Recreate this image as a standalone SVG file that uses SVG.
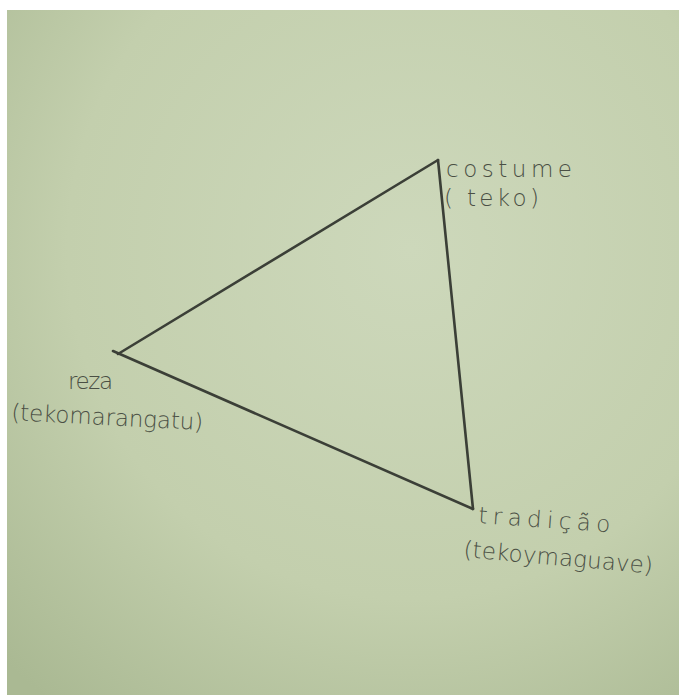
<svg xmlns="http://www.w3.org/2000/svg" width="679" height="695" viewBox="0 0 679 695">
<defs>
<radialGradient id="paper" cx="0.6" cy="0.35" r="0.85">
<stop offset="0" stop-color="#cdd8bb"/>
<stop offset="0.6" stop-color="#c3cfad"/>
<stop offset="1" stop-color="#aab993"/>
</radialGradient>
<style>
.edge{stroke:#3b3f37;stroke-width:2.6;stroke-linecap:round;fill:none}
.lbl{font-family:"DejaVu Sans","Liberation Sans",sans-serif;font-size:23px;fill:#4a4f44;font-weight:300}
</style>
</defs>
<rect x="0" y="0" width="679" height="695" fill="#ffffff"/>
<rect x="7" y="10" width="672" height="685" fill="url(#paper)"/>
<g id="connectors">
<line class="edge" x1="438" y1="160" x2="118" y2="354"/>
<line class="edge" x1="438" y1="160" x2="473" y2="509"/>
<line class="edge" x1="113" y1="351" x2="473" y2="509"/>
</g>
<g id="node-costume">
<text class="lbl" x="446" y="177" textLength="126" lengthAdjust="spacing">costume</text>
<text class="lbl" x="444" y="206" textLength="95" lengthAdjust="spacing">( teko)</text>
</g>
<g id="node-reza">
<text class="lbl" x="68" y="389" textLength="45" lengthAdjust="spacing">reza</text>
<text class="lbl" x="11" y="420" textLength="192" lengthAdjust="spacing" transform="rotate(3 11 420)">(tekomarangatu)</text>
</g>
<g id="node-tradicao">
<text class="lbl" x="478" y="523" textLength="132" lengthAdjust="spacing" transform="rotate(4 478 523)">tradição</text>
<text class="lbl" x="463" y="557" textLength="190" lengthAdjust="spacing" transform="rotate(5 463 557)">(tekoymaguave)</text>
</g>
</svg>
